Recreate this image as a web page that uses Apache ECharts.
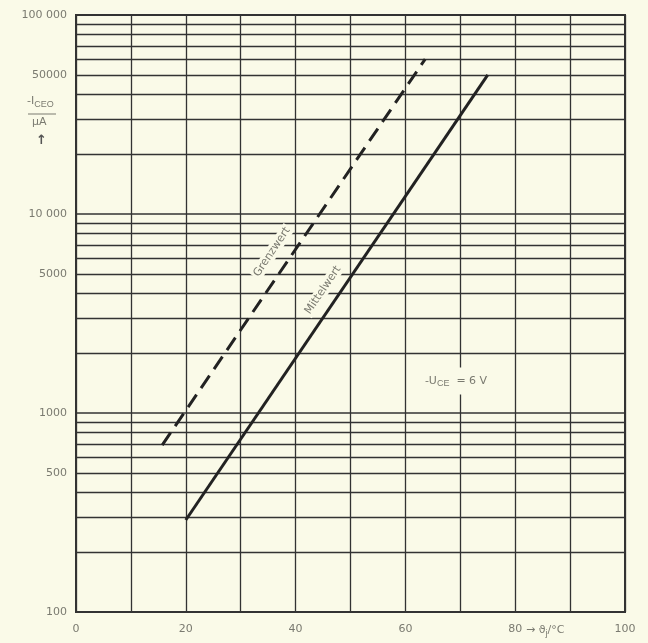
<!DOCTYPE html>
<html><head><meta charset="utf-8">
<script src="https://cdn.jsdelivr.net/npm/echarts@6/dist/echarts.min.js"></script>
<style>html,body{margin:0;padding:0;background:#fafae8;}#c{width:648px;height:643px;}</style>
</head><body><div id="c"></div>
<script>
// Data
const xTickLabels = [0, 20, 40, 60, 80, 100];
const yMajorTicks = [100, 1000, 10000, 100000];
const yExtraLabels = [500, 5000, 50000];
const yMinorGrid = [200,300,400,500,600,700,800,900,2000,3000,4000,5000,6000,7000,8000,9000,20000,30000,40000,50000,60000,70000,80000,90000];
const grenzX = [15.7, 63.6];
const grenzY = [690, 60000];
const mittelX = [20, 75];
const mittelY = [290, 50000];

const gridColor = '#333333';
const labelColor = '#7a7a70';
const fontFam = 'DejaVu Sans';

function fmtY(v){
  if (v === 100000) return '100 000';
  if (v === 10000) return '10 000';
  return String(v);
}

const chart = echarts.init(document.getElementById('c'));
const markLineData = yMinorGrid.map(v => {
  const item = { yAxis: v };
  if (yExtraLabels.includes(v)) {
    item.label = { show: true, position: 'start', distance: 9, formatter: String(v), color: labelColor, fontFamily: fontFam, fontSize: 11 };
  } else {
    item.label = { show: false };
  }
  return item;
});

chart.setOption({
  backgroundColor: '#fafae8',
  animation: false,
  grid: { left: 76, right: 23, top: 15, bottom: 31, show: true, borderColor: gridColor, borderWidth: 2, backgroundColor: 'transparent' },
  xAxis: {
    type: 'value', min: 0, max: 100, interval: 10,
    axisLine: { show: true, lineStyle: { color: gridColor, width: 2 } },
    axisTick: { show: false },
    splitLine: { show: true, lineStyle: { color: gridColor, width: 1.3 } },
    axisLabel: {
      margin: 12, color: labelColor, fontFamily: fontFam, fontSize: 11,
      formatter: v => (xTickLabels.includes(v) ? String(v) : '')
    }
  },
  yAxis: {
    type: 'log', logBase: 10, min: 100, max: 100000,
    axisLine: { show: true, lineStyle: { color: gridColor, width: 2 } },
    axisTick: { show: false },
    splitLine: { show: true, lineStyle: { color: gridColor, width: 1.5 } },
    minorTick: { show: false }, minorSplitLine: { show: false },
    axisLabel: { margin: 9, color: labelColor, fontFamily: fontFam, fontSize: 11, formatter: v => fmtY(v) }
  },
  series: [
    {
      name: 'Grenzwert', type: 'line', showSymbol: false, symbol: 'none',
      data: grenzX.map((x, i) => [x, grenzY[i]]),
      lineStyle: { color: '#222', width: 3, type: [15, 8] },
      z: 5
    },
    {
      name: 'Mittelwert', type: 'line', showSymbol: false, symbol: 'none',
      data: mittelX.map((x, i) => [x, mittelY[i]]),
      lineStyle: { color: '#222', width: 3 },
      z: 5,
      markLine: {
        silent: true, symbol: ['none', 'none'], animation: false,
        lineStyle: { color: gridColor, width: 1.3, type: 'solid' },
        data: markLineData
      }
    }
  ],
  graphic: [
    { type: 'text', left: 27, top: 96, z: 10, style: { text: '-I{s|CEO}', fill: labelColor, font: '11px DejaVu Sans', rich: { s: { fontSize: 9, padding: [6, 0, 0, 0], fill: labelColor } } } },
    { type: 'line', z: 10, shape: { x1: 28, y1: 114, x2: 56, y2: 114 }, style: { stroke: labelColor, lineWidth: 1 } },
    { type: 'text', left: 32, top: 117, z: 10, style: { text: 'µA', fill: labelColor, font: '11px DejaVu Sans' } },
    { type: 'text', left: 36, top: 134, z: 10, style: { text: '↑', fill: '#555', font: 'bold 13px DejaVu Sans' } },
    { type: 'text', left: 526, top: 625, z: 10, style: { text: '→ ϑ{s|j}/°C', fill: labelColor, font: '11px DejaVu Sans', rich: { s: { fontSize: 9, padding: [6, 0, 0, 0], fill: labelColor } } } },
    { type: 'text', x: 272, y: 252, rotation: 56 * Math.PI / 180, z: 10,
      style: { text: 'Grenzwert', fill: labelColor, font: '11px DejaVu Sans', align: 'center', verticalAlign: 'middle', backgroundColor: '#fafae8', padding: [1, 2] } },
    { type: 'text', x: 323, y: 290, rotation: 56 * Math.PI / 180, z: 10,
      style: { text: 'Mittelwert', fill: labelColor, font: '11px DejaVu Sans', align: 'center', verticalAlign: 'middle', backgroundColor: '#fafae8', padding: [1, 2] } },
    { type: 'text', x: 456, y: 381, z: 10,
      style: { text: '-U{s|CE}  = 6 V', fill: labelColor, font: '11px DejaVu Sans', align: 'center', verticalAlign: 'middle', backgroundColor: '#fafae8', padding: [6, 4], rich: { s: { fontSize: 9, padding: [6, 0, 0, 0], fill: labelColor } } } }
  ]
});
</script></body></html>
